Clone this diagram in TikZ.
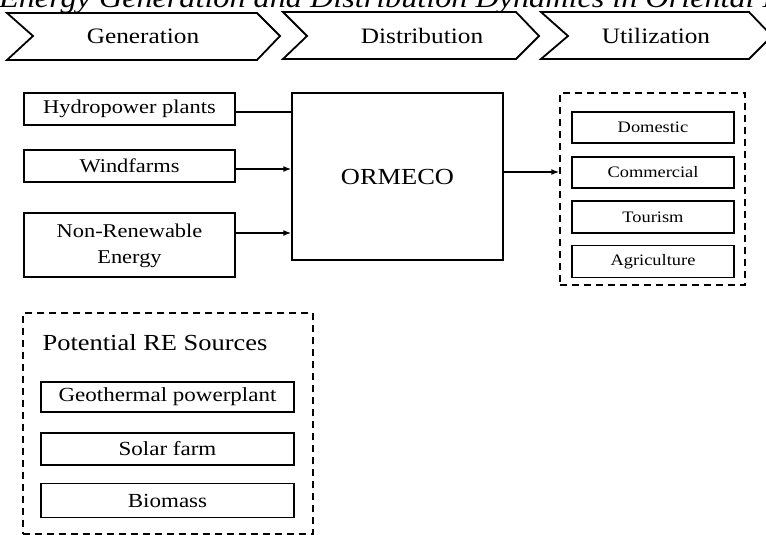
\documentclass[tikz,border=0pt]{standalone}
\usepackage{fontspec}
\setmainfont{Liberation Serif}[FakeStretch=1.15]
\usetikzlibrary{arrows.meta}

\begin{document}
\begin{tikzpicture}[x=1pt,y=-1pt,
    box/.style={draw, line width=1.5pt, inner sep=0pt, align=center},
    group/.style={draw, line width=1.5pt, dash pattern=on 7pt off 5pt, inner sep=0pt},
    flow/.style={line width=1.5pt, -{Latex[length=8pt,width=6pt]}},
    chev/.style={line width=1.8pt, line join=miter}]

    \useasboundingbox (0,0) rectangle (766,535);
    \clip (0,0) rectangle (766,535);

    % Title (cut off at the top)
    \node[anchor=base west, inner sep=0pt, font=\fontsize{28}{32}\selectfont\itshape] (title) at (-1,8) {Energy Generation and Distribution Dynamics in Oriental Mindoro};

    % Stage chevrons
    \draw[chev] (7,13) -- (257,13) -- (280,36) -- (257,60) -- (7,60) -- (33,36) -- cycle;
    \draw[chev] (283,12) -- (516,12) -- (539,36) -- (516,59) -- (283,59) -- (307,36) -- cycle;
    \draw[chev] (541,12) -- (749,12) -- (772,36) -- (749,59) -- (541,59) -- (568,36) -- cycle;
    \node[font=\fontsize{22}{26}\selectfont] (gen) at (143,36) {Generation};
    \node[font=\fontsize{22}{26}\selectfont] (dist) at (422,36) {Distribution};
    \node[font=\fontsize{22}{26}\selectfont] (util) at (656,36) {Utilization};

    % Sources
    \node[box, minimum width=211pt, minimum height=32pt, font=\fontsize{19.5}{24}\selectfont] (hydro) at (129.5,109) {Hydropower plants};
    \node[box, minimum width=211pt, minimum height=32pt, font=\fontsize{19.5}{24}\selectfont] (wind) at (129.5,166) {Windfarms};
    \node[box, minimum width=211pt, minimum height=64pt, font=\fontsize{19.5}{26}\selectfont] (nonre) at (129.5,245) {\raisebox{-4pt}{\begin{tabular}{@{}c@{}}Non-Renewable\\Energy\end{tabular}}};

    % Distributor
    \node[box, minimum width=211pt, minimum height=167pt, font=\fontsize{23}{28}\selectfont] (ormeco) at (397.5,176.5) {ORMECO};

    % Users
    \node[group, minimum width=185pt, minimum height=192pt] (users) at (652.5,189) {};
    \node[box, minimum width=162pt, minimum height=31pt, font=\fontsize{16}{20}\selectfont] (dom) at (653,127.5) {Domestic};
    \node[box, minimum width=162pt, minimum height=31pt, font=\fontsize{16}{20}\selectfont] (com) at (653,172.5) {Commercial};
    \node[box, minimum width=162pt, minimum height=32pt, font=\fontsize{16}{20}\selectfont] (tour) at (653,217) {Tourism};
    \node[box, minimum width=162pt, minimum height=32pt, font=\fontsize{16}{20}\selectfont] (agri) at (653,261.5) {Agriculture};

    % Potential sources
    \node[group, minimum width=290pt, minimum height=221pt] (pot) at (168,423.5) {};
    \node[font=\fontsize{23}{28}\selectfont] (pottitle) at (155,343) {Potential RE Sources};
    \node[box, minimum width=253pt, minimum height=30pt, font=\fontsize{20}{24}\selectfont] (geo) at (167.5,397) {Geothermal powerplant};
    \node[box, minimum width=253pt, minimum height=32pt, font=\fontsize{20}{24}\selectfont] (solar) at (167.5,449) {Solar farm};
    \node[box, minimum width=253pt, minimum height=34pt, font=\fontsize{20}{24}\selectfont] (bio) at (167.5,500.5) {Biomass};

    % Connectors
    \coordinate (h1) at ([yshift=-3pt]hydro.east);
    \coordinate (w1) at ([yshift=-3pt]wind.east);
    \coordinate (n1) at ([yshift=12pt]nonre.east);
    \coordinate (o1) at ([yshift=4.5pt]ormeco.east);
    \draw[line width=1.5pt] (h1) -- (h1 -| ormeco.west);
    \draw[flow] (w1) -- (w1 -| ormeco.west);
    \draw[flow] (n1) -- (n1 -| ormeco.west);
    \draw[flow] (o1) -- (o1 -| users.west);

\end{tikzpicture}
\end{document}
